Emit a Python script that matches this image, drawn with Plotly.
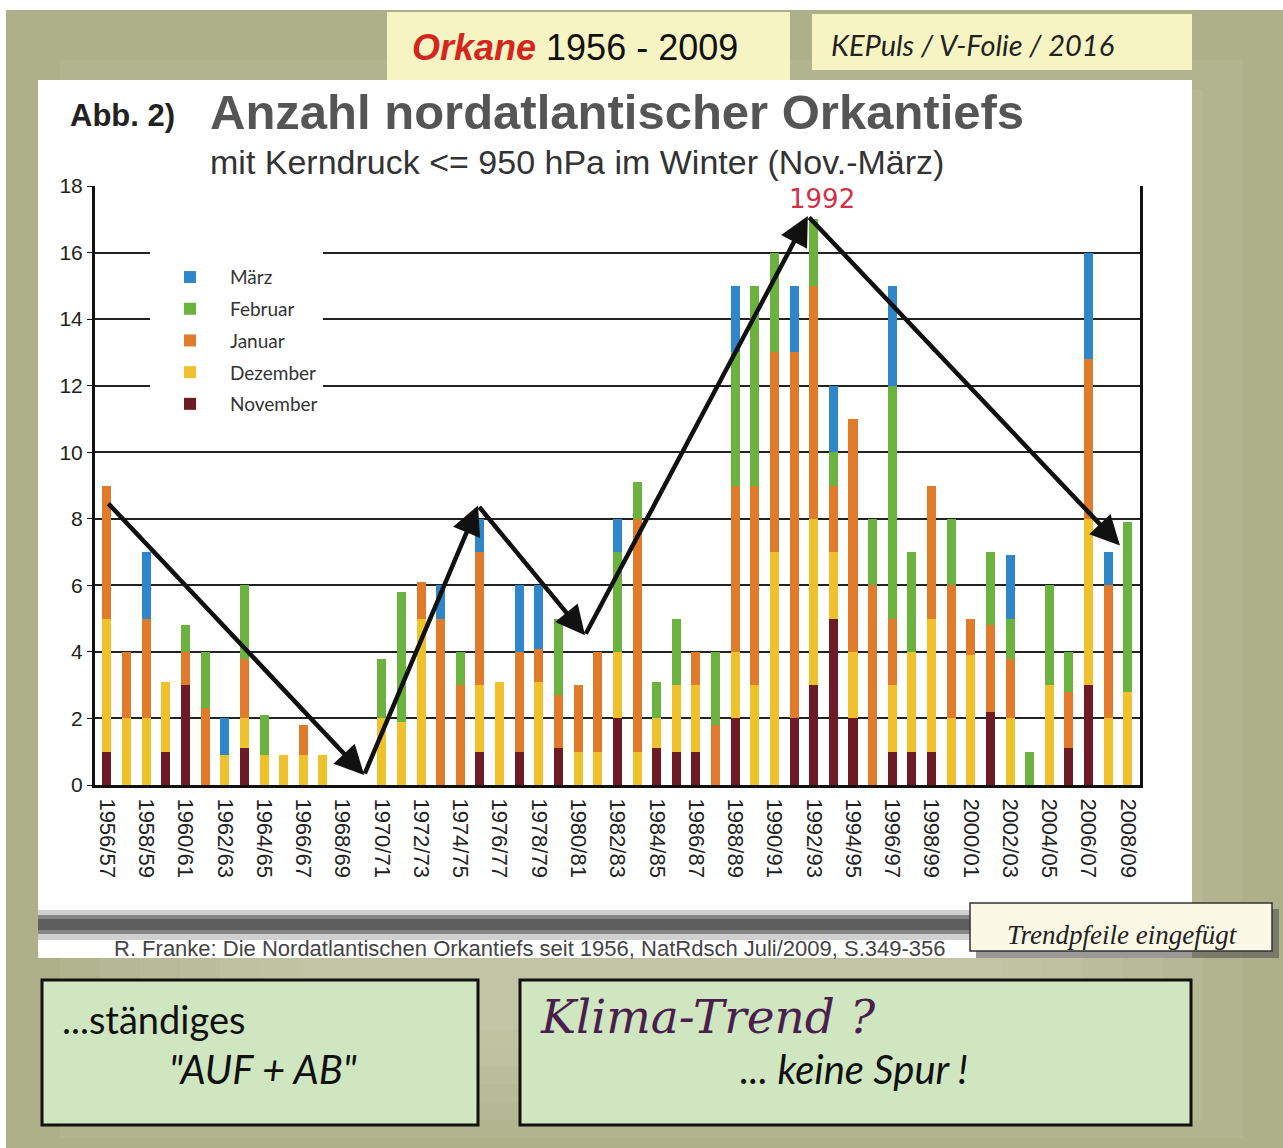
import plotly.graph_objects as go

# winters 1956/57 .. 2008/09, storms per month
years = list(range(1956, 2009))
labels = [f"{y}/{str(y + 1)[-2:]}" for y in years]

nov = [1, 0, 0, 1, 3, 0, 0, 1.1, 0, 0, 0, 0, 0, 0, 0, 0, 0, 0, 0, 1,
       0, 1, 0, 1.1, 0, 0, 2, 0, 1.1, 1, 1, 0, 2, 0, 0, 2, 3, 5, 2, 0,
       1, 1, 1, 0, 0, 2.2, 0, 0, 0, 1.1, 3, 0, 0]
dez = [4, 2, 2, 2.1, 0, 0, 0.9, 0.9, 0.9, 0.9, 0.9, 0.9, 0, 0, 2, 1.9, 5, 0, 0, 2,
       3.1, 0, 3.1, 0, 1, 1, 2, 1, 0.9, 2, 2, 0, 2, 3, 7, 0, 5, 2, 2, 0,
       2, 3, 4, 2, 3.9, 0, 2, 0, 3, 0, 5, 2, 2.8]
jan = [4, 2, 3, 0, 1, 2.3, 0, 1.8, 0, 0, 0.9, 0, 0, 0, 0, 0, 1.1, 5, 3, 4,
       0, 3, 1, 1.6, 2, 3, 0, 7, 0, 0, 1, 1.8, 5, 6, 6, 11, 7, 2, 7, 6,
       2, 0, 4, 4, 1.1, 2.6, 1.8, 0, 0, 1.7, 4.8, 4, 0]
feb = [0, 0, 0, 0, 0.8, 1.7, 0, 2.2, 1.2, 0, 0, 0, 0, 0, 1.8, 3.9, 0, 0, 1, 0,
       0, 0, 0, 2.3, 0, 0, 3, 1.1, 1.1, 2, 0, 2.2, 4, 6, 3, 0, 2, 1, 0, 2,
       7, 3, 0, 2, 0, 2.2, 1.2, 1, 3, 1.2, 0, 0, 5.1]
mar = [0, 0, 2, 0, 0, 0, 1.1, 0, 0, 0, 0, 0, 0, 0, 0, 0, 0, 1, 0, 1,
       0, 2, 1.9, 0, 0, 0, 1, 0, 0, 0, 0, 0, 2, 0, 0, 2, 0, 2, 0, 0,
       3, 0, 0, 0, 0, 0, 1.9, 0, 0, 0, 3.2, 1, 0]

# inserted trend arrows (corner points)
trend_x = [1956, 1969.1, 1974.9, 1980.35, 1991.7, 2007.6]
trend_y = [8.5, 0.3, 8.4, 4.5, 17.1, 7.2]

W, H = 1283, 1148
L, R, T, B = 95, 143, 186, 363


def fx(p):
    return (p - L) / (W - L - R)


def fy(p):
    return (H - B - p) / (H - T - B)


def box(x0, y0, x1, y1, fill, line=None, lw=0, layer="below", opacity=1):
    return dict(type="rect", xref="paper", yref="paper", layer=layer,
                x0=fx(x0), x1=fx(x1), y0=fy(y1), y1=fy(y0), fillcolor=fill,
                opacity=opacity, line=dict(color=line or fill, width=lw))


def text(x, y, s, size, color="#222", family="Liberation Sans", xanchor="center"):
    return dict(xref="paper", yref="paper", x=fx(x), y=fy(y), text=s, showarrow=False,
                xanchor=xanchor, yanchor="middle", font=dict(size=size, color=color, family=family))


fig = go.Figure()
series = [("November", nov, "#6d1c25", 5), ("Dezember", dez, "#efc12c", 4),
          ("Januar", jan, "#e07b2c", 3), ("Februar", feb, "#6cb23e", 2), ("März", mar, "#2f87c9", 1)]
for name, vals, col, rank in series:
    fig.add_trace(go.Bar(x=years, y=vals, name=name, marker_color=col, marker_line_width=0,
                         width=0.46, legendgroup=name, legendrank=rank))

# soft lighter centre on the olive slide background
shapes = []
for k in range(7):
    shapes.append(box(60 + 40 * k, 60 + 30 * k, W - 40 - 40 * k, H - 10 - 18 * k,
                      "#e2e2c8", opacity=0.09))
shapes += [
    box(0, 0, W, 10, "white"),
    box(0, 0, 6, H, "white"),
    box(387, 12, 790, 82, "#f6f4c2"),
    box(812, 14, 1192, 70, "#f6f4c2"),
    box(38, 80, 1192, 958, "white"),
    box(38, 910, 1000, 940, "#b0b0b0", opacity=0.6),
    box(38, 915, 1000, 934, "#666666", opacity=0.7),
    box(38, 919, 1000, 930, "#444444", opacity=0.6),
    box(976, 909, 1279, 958, "#555555", layer="above", opacity=0.6),
    box(970, 903, 1272, 951, "#fbf8e6", line="#333", lw=1.5, layer="above"),
    box(42, 980, 478, 1125, "#cfe6c1", line="#111", lw=3),
    box(520, 980, 1191, 1125, "#cfe6c1", line="#111", lw=3),
]

annotations = [
    text(575, 47, "<b><i><span style='color:#d2261e'>Orkane</span></i></b> 1956 - 2009", 36, "#111"),
    text(972, 44, "<i>KEPuls / V-Folie / 2016</i>", 29, "#222", "Lato"),
    text(68, 115, "<b>Abb. 2)</b>", 31, "#222", xanchor="left"),
    text(208, 112, "<b>Anzahl nordatlantischer Orkantiefs</b>", 49, "#555", xanchor="left"),
    text(208, 162, "mit Kerndruck <= 950 hPa im Winter (Nov.-März)", 34, "#333", xanchor="left"),
    text(112, 948, "R. Franke: Die Nordatlantischen Orkantiefs seit 1956, NatRdsch Juli/2009, S.349-356",
         22, "#444", xanchor="left"),
    text(1122, 935, "<i>Trendpfeile eingefügt</i>", 27, "#222", "Liberation Serif"),
    text(60, 1019, "...ständiges", 38, "#111", "Lato", xanchor="left"),
    text(263, 1069, "<i>\"AUF + AB\"</i>", 40, "#111", "Lato"),
    text(538, 1016, "<i>Klima-Trend ?</i>", 47, "#4b1f4d", "DejaVu Serif", xanchor="left"),
    text(854, 1069, "<i>... keine Spur !</i>", 40, "#111", "Lato"),
    dict(x=1992.4, y=17.62, xref="x", yref="y", text="1992", showarrow=False,
         font=dict(size=26, color="#d0304a", family="DejaVu Sans")),
]
for i in range(len(trend_x) - 1):
    annotations.append(dict(x=trend_x[i + 1], y=trend_y[i + 1], ax=trend_x[i], ay=trend_y[i],
                            xref="x", yref="y", axref="x", ayref="y", text="", showarrow=True,
                            arrowhead=2, arrowsize=1.3, arrowwidth=4.5, arrowcolor="#111"))

fig.update_layout(
    width=W, height=H, barmode="stack", bargap=0,
    margin=dict(l=L, r=R, t=T, b=B, autoexpand=False),
    paper_bgcolor="#aeb08a", plot_bgcolor="white",
    shapes=shapes, annotations=annotations,
    legend=dict(x=fx(150), y=fy(240), xanchor="left", yanchor="top", bgcolor="white",
                title=dict(text=" ", font=dict(size=14)),
                traceorder="grouped", tracegroupgap=4, itemwidth=70, entrywidth=175,
                font=dict(size=19, color="#333", family="Lato")),
)
fig.update_xaxes(range=[1955.39, 2008.62], tickmode="array", tickvals=years[::2],
                 ticktext=labels[::2], tickangle=90, showgrid=False, showline=True,
                 linecolor="#111", linewidth=3, ticks="", ticklabelstandoff=6,
                 tickfont=dict(size=22, color="#222", family="Liberation Sans"))
fig.update_yaxes(range=[0, 18], tickvals=list(range(0, 19, 2)), showgrid=True,
                 gridcolor="#222", gridwidth=2, showline=True, mirror=True, linecolor="#111",
                 linewidth=3, ticks="outside", ticklen=5, tickcolor="#111", zeroline=False,
                 tickfont=dict(size=21, color="#222", family="Liberation Sans"))

fig.write_html("out.html", config={"displayModeBar": False},
               post_script="document.body.style.margin='0';")
